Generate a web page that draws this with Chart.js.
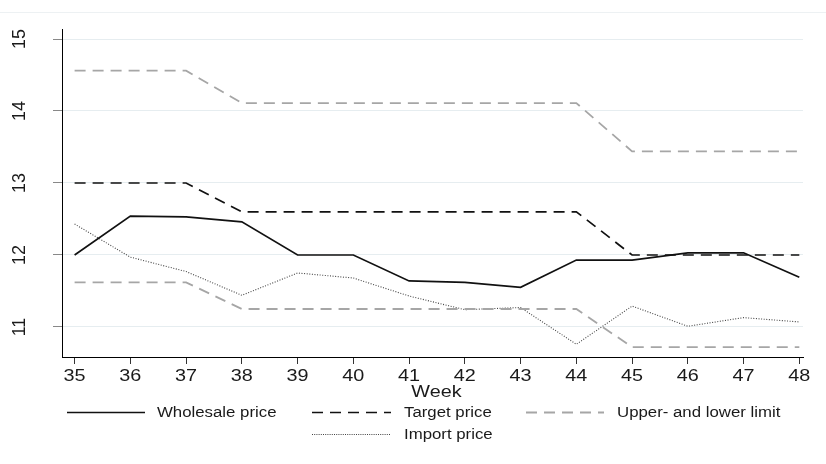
<!DOCTYPE html>
<html>
<head>
<meta charset="utf-8">
<script src="https://cdn.jsdelivr.net/npm/chart.js@4.4.1/dist/chart.umd.min.js"></script>
<style>
  html, body { margin: 0; padding: 0; background: #fff; }
  #wrap { width: 826px; height: 464px; }
</style>
</head>
<body>
<div id="wrap"><canvas id="c" width="826" height="464"></canvas></div>
<script>
// Weekly prices
const weeks          = [35, 36, 37, 38, 39, 40, 41, 42, 43, 44, 45, 46, 47, 48];
const wholesalePrice = [12.00, 12.54, 12.53, 12.46, 12.00, 12.00, 11.64, 11.62, 11.55, 11.93, 11.93, 12.03, 12.03, 11.69];
const targetPrice    = [13.00, 13.00, 13.00, 12.60, 12.60, 12.60, 12.60, 12.60, 12.60, 12.60, 12.00, 12.00, 12.00, 12.00];
const upperLimit     = [14.56, 14.56, 14.56, 14.11, 14.11, 14.11, 14.11, 14.11, 14.11, 14.11, 13.44, 13.44, 13.44, 13.44];
const lowerLimit     = [11.62, 11.62, 11.62, 11.25, 11.25, 11.25, 11.25, 11.25, 11.25, 11.25, 10.72, 10.72, 10.72, 10.72];
const importPrice    = [12.43, 11.97, 11.77, 11.44, 11.75, 11.68, 11.43, 11.24, 11.27, 10.76, 11.29, 11.01, 11.13, 11.07];
const yTickValues    = [11, 12, 13, 14, 15];
const xTitle         = 'Week';

const FONT = '"Liberation Sans", Arial, Helvetica, sans-serif';
const TEXT = '#1a1a1a';
const SX = 1.2; // horizontal widening of the text

const pts = arr => weeks.map((w, i) => ({ x: w, y: arr[i] }));

const gray = '#a6a6a6';
const datasets = [
  { label: 'Wholesale price', data: pts(wholesalePrice), borderColor: '#111', borderWidth: 1.7, borderDash: [] },
  { label: 'Target price', data: pts(targetPrice), borderColor: '#111', borderWidth: 1.7, borderDash: [11, 7] },
  { label: 'Upper- and lower limit', data: pts(upperLimit), borderColor: gray, borderWidth: 1.8, borderDash: [11, 7] },
  { label: 'Upper- and lower limit', data: pts(lowerLimit), borderColor: gray, borderWidth: 1.8, borderDash: [11, 7] },
  { label: 'Import price', data: pts(importPrice), borderColor: '#444', borderWidth: 1.1, borderDash: [1, 1.6] }
].map(d => Object.assign(d, { pointRadius: 0, pointHoverRadius: 0, tension: 0, fill: false }));

function wideText(ctx, txt, x, y, align, size) {
  ctx.save();
  ctx.font = size + 'px ' + FONT;
  ctx.fillStyle = TEXT;
  ctx.translate(x, y);
  ctx.scale(SX, 1);
  ctx.textAlign = align;
  ctx.textBaseline = 'middle';
  ctx.fillText(txt, 0, 0);
  ctx.restore();
}

const decor = {
  id: 'decor',
  beforeDraw(chart) {
    const ctx = chart.ctx;
    ctx.save();
    ctx.strokeStyle = '#edf1f3';
    ctx.lineWidth = 1;
    ctx.beginPath();
    ctx.moveTo(0, 12.5);
    ctx.lineTo(chart.width, 12.5);
    ctx.stroke();
    ctx.restore();
  },
  afterDraw(chart) {
    const ctx = chart.ctx;
    const xs = chart.scales.x, ys = chart.scales.y;

    // x tick labels
    xs.ticks.forEach(t => wideText(ctx, String(t.value), xs.getPixelForValue(t.value), 376, 'center', 16.5));

    // y tick labels, rotated
    ys.ticks.forEach(t => {
      ctx.save();
      ctx.font = '18px ' + FONT;
      ctx.fillStyle = TEXT;
      ctx.translate(20, ys.getPixelForValue(t.value));
      ctx.rotate(-Math.PI / 2);
      ctx.textAlign = 'center';
      ctx.textBaseline = 'middle';
      ctx.fillText(String(t.value), 0, 0);
      ctx.restore();
    });

    // axis title
    wideText(ctx, xTitle, 436.5, 392, 'center', 16.5);

    // legend
    const ds = chart.data.datasets;
    const entries = [
      { i: 0, x0: 67,  x1: 145, tx: 157, y: 412 },
      { i: 1, x0: 312, x1: 391, tx: 404, y: 412 },
      { i: 2, x0: 526, x1: 604, tx: 617, y: 412 },
      { i: 4, x0: 312, x1: 391, tx: 404, y: 434 }
    ];
    entries.forEach(e => {
      const d = ds[e.i];
      ctx.save();
      ctx.strokeStyle = d.borderColor;
      ctx.lineWidth = d.borderWidth;
      ctx.setLineDash(e.i === 4 ? [1, 1.2] : d.borderDash);
      ctx.beginPath();
      ctx.moveTo(e.x0, e.y + 0.5);
      ctx.lineTo(e.x1, e.y + 0.5);
      ctx.stroke();
      ctx.restore();
      wideText(ctx, d.label, e.tx, e.y + 1, 'left', 14);
    });
  }
};

new Chart(document.getElementById('c'), {
  type: 'line',
  data: { datasets },
  options: {
    responsive: false,
    animation: false,
    events: [],
    layout: { padding: { top: 29, right: 23, bottom: 0, left: 0 } },
    plugins: { legend: { display: false }, tooltip: { enabled: false } },
    scales: {
      x: {
        type: 'linear',
        min: 34.774,
        max: 48.066,
        afterBuildTicks: s => { s.ticks = weeks.map(v => ({ value: v })); },
        afterFit: s => { s.height = 107; },
        ticks: { display: false },
        grid: { drawOnChartArea: false, drawTicks: true, tickLength: 7, tickColor: '#333', lineWidth: 1 },
        border: { display: true, color: '#000', width: 1 }
      },
      y: {
        type: 'linear',
        min: 10.583,
        max: 15.139,
        afterBuildTicks: s => { s.ticks = yTickValues.map(v => ({ value: v })); },
        afterFit: s => { s.width = 62; },
        ticks: { display: false },
        grid: { color: '#e6edf0', tickColor: '#888', tickLength: 9, lineWidth: 1 },
        border: { display: true, color: '#000', width: 1 }
      }
    }
  },
  plugins: [decor]
});
</script>
</body>
</html>
